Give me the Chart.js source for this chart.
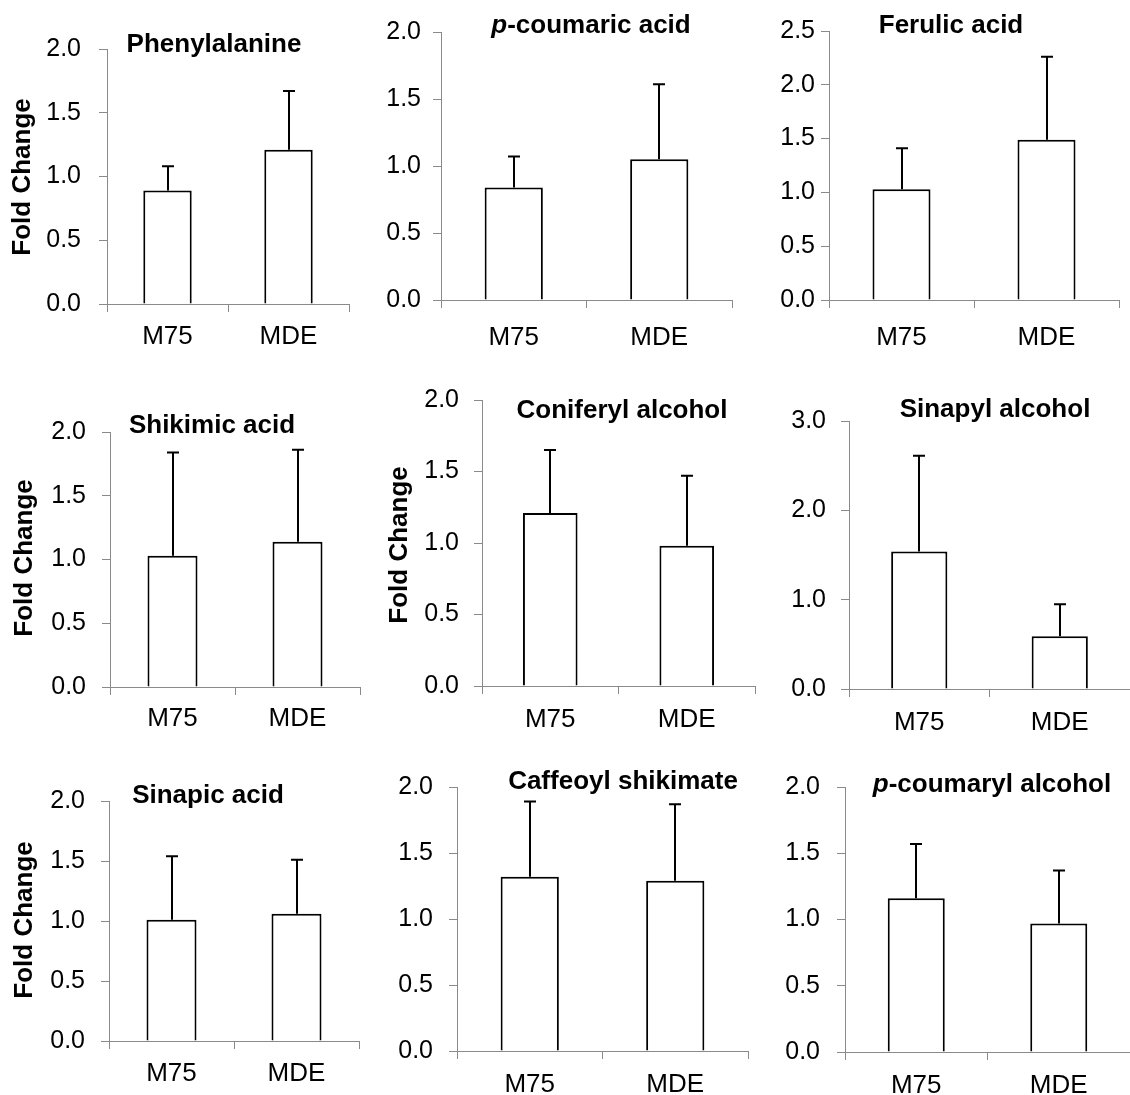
<!DOCTYPE html>
<html>
<head>
<meta charset="utf-8">
<script src="https://cdn.jsdelivr.net/npm/chart.js@4/dist/chart.umd.min.js"></script>
<style>
  html, body { margin: 0; padding: 0; background: #fff; }
  #figure { position: relative; width: 1130px; height: 1095px; background: #fff; overflow: hidden; }
  #figure canvas { position: absolute; }
</style>
</head>
<body>
<div id="figure"></div>
<script>
// Groups compared in every panel
const categories = ['M75', 'MDE'];

// Metabolite names (panel titles)
const titles = [
  'Phenylalanine', 'p-coumaric acid', 'Ferulic acid',
  'Shikimic acid', 'Coniferyl alcohol', 'Sinapyl alcohol',
  'Sinapic acid', 'Caffeoyl shikimate', 'p-coumaryl alcohol'
];

// Mean fold change per group and upper error (SD) per group
const phenylalanineMean = [0.89, 1.21];
const phenylalanineSd   = [0.19, 0.46];
const coumaricAcidMean  = [0.84, 1.05];
const coumaricAcidSd    = [0.23, 0.56];
const ferulicAcidMean   = [1.03, 1.49];
const ferulicAcidSd     = [0.38, 0.77];
const shikimicAcidMean  = [1.03, 1.14];
const shikimicAcidSd    = [0.81, 0.72];
const coniferylAlcMean  = [1.21, 0.98];
const coniferylAlcSd    = [0.44, 0.49];
const sinapylAlcMean    = [1.54, 0.59];
const sinapylAlcSd      = [1.07, 0.36];
const sinapicAcidMean   = [1.01, 1.06];
const sinapicAcidSd     = [0.53, 0.45];
const caffeoylShikMean  = [1.32, 1.29];
const caffeoylShikSd    = [0.57, 0.58];
const coumarylAlcMean   = [1.16, 0.97];
const coumarylAlcSd     = [0.41, 0.40];

// Y-axis ranges and tick steps
const yMax  = [2, 2, 2.5, 2, 2, 3, 2, 2, 2];
const yStep = [0.5, 0.5, 0.5, 0.5, 0.5, 1, 0.5, 0.5, 0.5];

const means = [phenylalanineMean, coumaricAcidMean, ferulicAcidMean,
               shikimicAcidMean, coniferylAlcMean, sinapylAlcMean,
               sinapicAcidMean, caffeoylShikMean, coumarylAlcMean];
const sds = [phenylalanineSd, coumaricAcidSd, ferulicAcidSd,
             shikimicAcidSd, coniferylAlcSd, sinapylAlcSd,
             sinapicAcidSd, caffeoylShikSd, coumarylAlcSd];
const showYTitle = [true, false, false, true, true, false, true, false, false];

// Page layout of each panel: canvas box [l, t, r, b], plot edges, label offsets
const panelLayout = [
  { box: [0, 0, 370, 344],      axisX: 107, top: 49,  zero: 304,  xEnd: 349,  yPad: 18, xPad: 9.5, title: [214, 52],  yTitle: [23, 177] },
  { box: [375, 0, 750, 360],    axisX: 441, top: 32,  zero: 300,  xEnd: 732,  yPad: 12, xPad: 14.5, title: [591, 33] },
  { box: [760, 0, 1130, 360],   axisX: 829, top: 31,  zero: 300,  xEnd: 1119, yPad: 6,  xPad: 14.5, title: [951, 33] },
  { box: [0, 370, 375, 740],    axisX: 110, top: 432, zero: 687,  xEnd: 360,  yPad: 16, xPad: 8.5, title: [212, 433], yTitle: [25, 558] },
  { box: [380, 370, 760, 740],  axisX: 482, top: 400, zero: 686,  xEnd: 755,  yPad: 15, xPad: 10.5, title: [622, 418], yTitle: [400, 545] },
  { box: [765, 370, 1130, 740], axisX: 849, top: 421, zero: 689,  xEnd: 1130, yPad: 15, xPad: 10.5, title: [995, 417] },
  { box: [0, 740, 375, 1095],   axisX: 109, top: 801, zero: 1041, xEnd: 359,  yPad: 16, xPad: 9.5, title: [208, 803], yTitle: [25, 920] },
  { box: [375, 740, 755, 1095], axisX: 457, top: 787, zero: 1051, xEnd: 748,  yPad: 16, xPad: 10.5, title: [623, 789] },
  { box: [760, 740, 1130, 1095],axisX: 845, top: 787, zero: 1052, xEnd: 1130, yPad: 17, xPad: 10.5, title: [992, 792] }
];

const FONT = "'Liberation Sans', Arial, Helvetica, sans-serif";
const AXIS_COLOR = '#8a8a8a';

// Upper error whiskers, positioned through the y scale
const errorBarPlugin = {
  id: 'errorBars',
  afterDatasetsDraw(chart) {
    const ctx = chart.ctx;
    const yScale = chart.scales.y;
    chart.data.datasets.forEach((ds, di) => {
      const meta = chart.getDatasetMeta(di);
      meta.data.forEach((bar, i) => {
        const top = yScale.getPixelForValue(ds.data[i] + ds.errorUp[i]);
        const x = Math.round(bar.x);
        ctx.save();
        ctx.strokeStyle = '#000';
        ctx.lineWidth = 2;
        ctx.beginPath();
        ctx.moveTo(x, bar.y);
        ctx.lineTo(x, top);
        ctx.moveTo(x - 6, top);
        ctx.lineTo(x + 6, top);
        ctx.stroke();
        ctx.restore();
      });
    });
  }
};

// Panel title and the rotated "Fold Change" axis title
const labelPlugin = {
  id: 'panelLabels',
  afterDraw(chart, args, opts) {
    const ctx = chart.ctx;
    ctx.save();
    ctx.fillStyle = '#000';
    ctx.textBaseline = 'alphabetic';
    const text = opts.text;
    let italic = '', rest = text;
    if (text.startsWith('p-')) { italic = 'p'; rest = text.slice(1); }
    const boldFont = 'bold 26px ' + FONT;
    const italicFont = 'italic bold 26px ' + FONT;
    ctx.font = italicFont;
    const wi = italic ? ctx.measureText(italic).width : 0;
    ctx.font = boldFont;
    const wr = ctx.measureText(rest).width;
    let x = opts.x - (wi + wr) / 2;
    ctx.textAlign = 'left';
    if (italic) {
      ctx.font = italicFont;
      ctx.fillText(italic, x, opts.y);
      x += wi;
    }
    ctx.font = boldFont;
    ctx.fillText(rest, x, opts.y);

    if (opts.yTitle) {
      ctx.translate(opts.yTitle[0], opts.yTitle[1]);
      ctx.rotate(-Math.PI / 2);
      ctx.textAlign = 'center';
      ctx.textBaseline = 'middle';
      ctx.font = 'bold 26px ' + FONT;
      ctx.fillText('Fold Change', 0, 0);
    }
    ctx.restore();
  }
};

const figure = document.getElementById('figure');

panelLayout.forEach((L, i) => {
  const [bl, bt, br, bb] = L.box;
  const canvas = document.createElement('canvas');
  canvas.width = br - bl;
  canvas.height = bb - bt;
  canvas.style.left = bl + 'px';
  canvas.style.top = bt + 'px';
  canvas.style.width = (br - bl) + 'px';
  canvas.style.height = (bb - bt) + 'px';
  figure.appendChild(canvas);

  new Chart(canvas, {
    type: 'bar',
    data: {
      labels: categories,
      datasets: [{
        data: means[i],
        errorUp: sds[i],
        backgroundColor: '#ffffff',
        borderColor: '#000000',
        borderWidth: 2,
        categoryPercentage: 0.5,
        barPercentage: 0.8
      }]
    },
    options: {
      responsive: false,
      animation: false,
      devicePixelRatio: 1,
      events: [],
      layout: {
        padding: { top: L.top - bt, right: br - L.xEnd, left: 0, bottom: 0 }
      },
      plugins: {
        legend: { display: false },
        tooltip: { enabled: false },
        title: { display: false },
        panelLabels: {
          text: titles[i],
          x: L.title[0] - bl,
          y: L.title[1] - bt,
          yTitle: showYTitle[i] ? [L.yTitle[0] - bl, L.yTitle[1] - bt] : null
        }
      },
      scales: {
        x: {
          offset: true,
          grid: { display: true, offset: true, drawOnChartArea: false, drawTicks: true, tickLength: 8, color: AXIS_COLOR, lineWidth: 1 },
          border: { display: true, color: AXIS_COLOR, width: 1 },
          ticks: { color: '#000', font: { family: FONT, size: 26 }, padding: L.xPad, maxRotation: 0 },
          afterFit(scale) {
            scale.height = bb - L.zero;
            scale.paddingLeft = 0;
            scale.paddingRight = 0;
          }
        },
        y: {
          min: 0,
          max: yMax[i],
          grid: { display: true, drawOnChartArea: false, drawTicks: true, tickLength: 8, color: AXIS_COLOR, lineWidth: 1 },
          border: { display: true, color: AXIS_COLOR, width: 1 },
          ticks: {
            stepSize: yStep[i],
            color: '#000',
            font: { family: FONT, size: 25 },
            padding: L.yPad,
            callback: (v) => Number(v).toFixed(1)
          },
          afterFit(scale) {
            scale.width = L.axisX - bl;
            scale.paddingTop = 0;
            scale.paddingBottom = 0;
          }
        }
      }
    },
    plugins: [errorBarPlugin, labelPlugin]
  });
});
</script>
</body>
</html>
